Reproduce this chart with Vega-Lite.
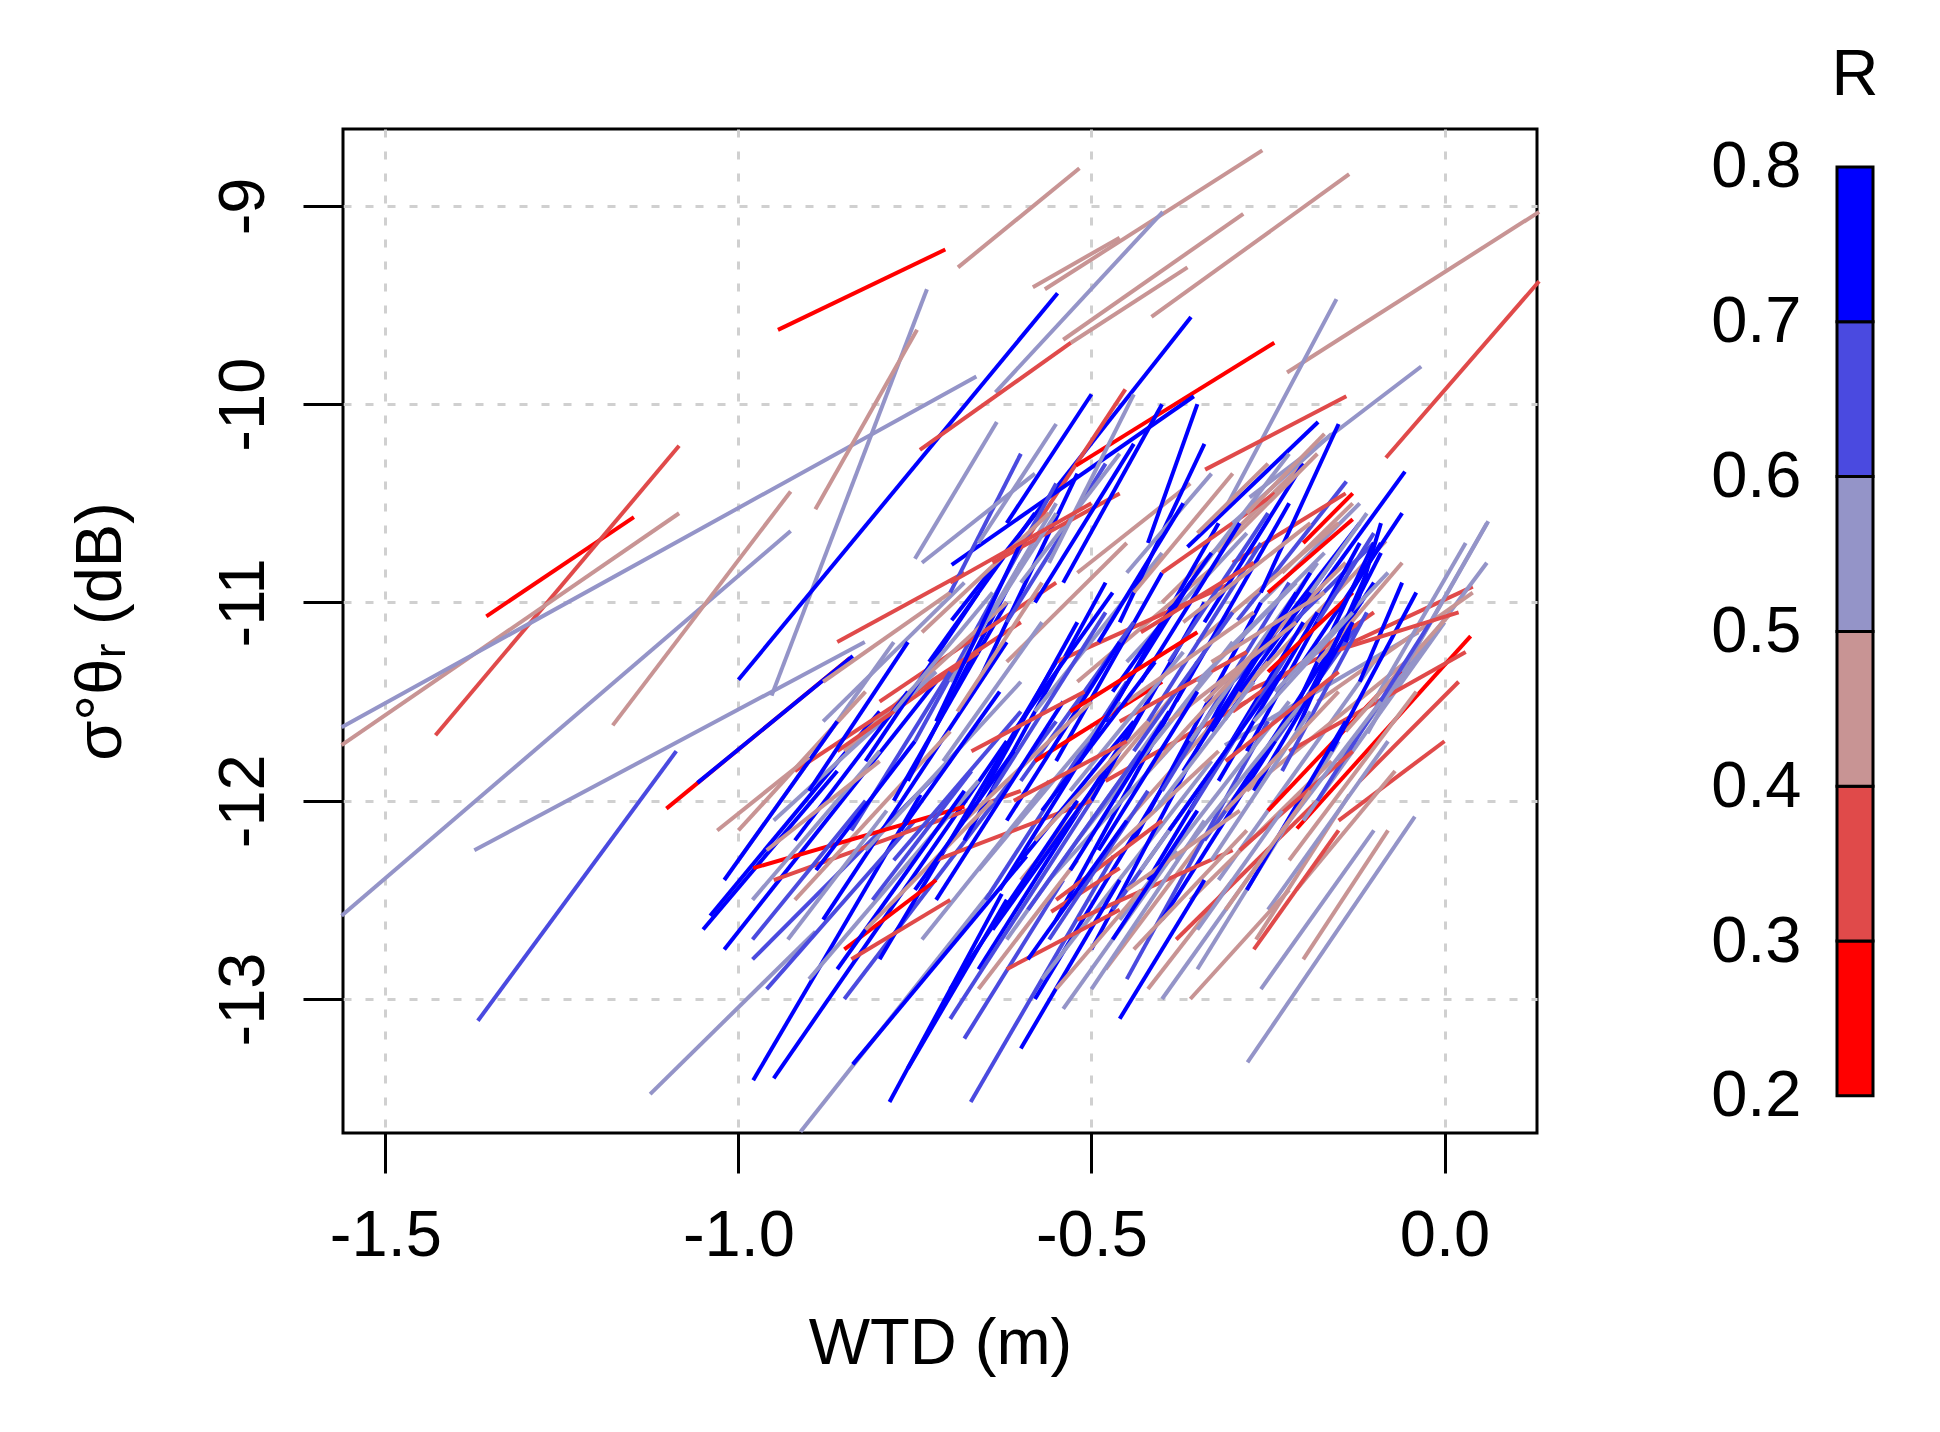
{
  "$schema": "https://vega.github.io/schema/vega-lite/v6.json",
  "background": "white",
  "padding": {"left": 66, "top": 43, "right": 10, "bottom": 10},
  "config": {
    "font": "Liberation Sans",
    "view": {"stroke": null},
    "axis": {"labelFont": "Liberation Sans", "titleFont": "Liberation Sans", "labelColor": "black", "titleColor": "black", "titleFontWeight": "normal"}
  },
  "datasets": {
    "segments": [
      {"x": -0.944, "y": -9.625, "x2": -0.707, "y2": -9.22, "r": 0.22},
      {"x": -0.689, "y": -9.31, "x2": -0.517, "y2": -8.81, "r": 0.45},
      {"x": -0.566, "y": -9.42, "x2": -0.258, "y2": -8.72, "r": 0.46},
      {"x": -0.415, "y": -9.56, "x2": -0.135, "y2": -8.84, "r": 0.44},
      {"x": -0.54, "y": -9.675, "x2": -0.285, "y2": -9.04, "r": 0.47},
      {"x": -0.223, "y": -9.84, "x2": 0.134, "y2": -9.03, "r": 0.45},
      {"x": -0.083, "y": -10.27, "x2": 0.134, "y2": -9.38, "r": 0.33},
      {"x": -1.357, "y": -11.07, "x2": -1.148, "y2": -10.57, "r": 0.24},
      {"x": -1.429, "y": -11.67, "x2": -1.084, "y2": -10.21, "r": 0.32},
      {"x": -1.562, "y": -11.72, "x2": -1.084, "y2": -10.55, "r": 0.43},
      {"x": -1.562, "y": -11.63, "x2": -0.663, "y2": -9.86, "r": 0.55},
      {"x": -1.562, "y": -12.58, "x2": -0.926, "y2": -10.64, "r": 0.54},
      {"x": -1.374, "y": -12.25, "x2": -0.821, "y2": -11.2, "r": 0.56},
      {"x": -1.178, "y": -11.62, "x2": -0.926, "y2": -10.44, "r": 0.44},
      {"x": -0.953, "y": -11.47, "x2": -0.733, "y2": -9.42, "r": 0.53},
      {"x": -0.891, "y": -10.53, "x2": -0.747, "y2": -9.625, "r": 0.46},
      {"x": -1.0, "y": -11.39, "x2": -0.548, "y2": -9.44, "r": 0.74},
      {"x": -0.636, "y": -9.94, "x2": -0.399, "y2": -9.03, "r": 0.57},
      {"x": -0.583, "y": -9.41, "x2": -0.46, "y2": -9.16, "r": 0.42},
      {"x": -0.743, "y": -10.23, "x2": -0.529, "y2": -9.69, "r": 0.35},
      {"x": -0.529, "y": -9.69, "x2": -0.364, "y2": -9.31, "r": 0.45},
      {"x": -0.698, "y": -11.09, "x2": -0.359, "y2": -9.56, "r": 0.75},
      {"x": -0.61, "y": -10.78, "x2": -0.452, "y2": -9.925, "r": 0.36},
      {"x": -0.522, "y": -10.31, "x2": -0.241, "y2": -9.69, "r": 0.25},
      {"x": -0.698, "y": -10.81, "x2": -0.355, "y2": -9.96, "r": 0.72},
      {"x": -0.311, "y": -10.53, "x2": -0.153, "y2": -9.47, "r": 0.52},
      {"x": -0.339, "y": -10.33, "x2": -0.139, "y2": -9.96, "r": 0.34},
      {"x": -0.276, "y": -10.47, "x2": -0.033, "y2": -9.81, "r": 0.55},
      {"x": -0.364, "y": -10.72, "x2": -0.179, "y2": -10.09, "r": 0.73},
      {"x": -0.109, "y": -11.66, "x2": 0.062, "y2": -10.59, "r": 0.53},
      {"x": -0.293, "y": -11.47, "x2": 0.04, "y2": -10.92, "r": 0.36},
      {"x": -0.209, "y": -12.14, "x2": 0.037, "y2": -11.17, "r": 0.23},
      {"x": -0.311, "y": -11.59, "x2": -0.056, "y2": -10.34, "r": 0.71},
      {"x": -0.293, "y": -11.09, "x2": -0.139, "y2": -10.39, "r": 0.66},
      {"x": -0.293, "y": -11.47, "x2": -0.083, "y2": -10.69, "r": 0.47},
      {"x": -0.311, "y": -11.72, "x2": -0.037, "y2": -11.15, "r": 0.58},
      {"x": -0.912, "y": -13.67, "x2": -0.645, "y2": -12.47, "r": 0.55},
      {"x": -0.979, "y": -13.41, "x2": -0.742, "y2": -11.97, "r": 0.76},
      {"x": -0.838, "y": -13.33, "x2": -0.592, "y2": -12.28, "r": 0.73},
      {"x": -0.786, "y": -13.52, "x2": -0.627, "y2": -12.47, "r": 0.71},
      {"x": -0.671, "y": -13.52, "x2": -0.469, "y2": -12.28, "r": 0.68},
      {"x": -1.125, "y": -13.48, "x2": -0.891, "y2": -12.66, "r": 0.56},
      {"x": -1.369, "y": -13.11, "x2": -1.088, "y2": -11.75, "r": 0.68},
      {"x": -0.279, "y": -13.32, "x2": -0.042, "y2": -12.08, "r": 0.55},
      {"x": -1.102, "y": -12.04, "x2": -0.842, "y2": -11.28, "r": 0.24},
      {"x": -1.058, "y": -11.91, "x2": -0.838, "y2": -11.27, "r": 0.75},
      {"x": -1.04, "y": -12.58, "x2": -0.8, "y2": -11.55, "r": 0.74},
      {"x": -1.02, "y": -12.75, "x2": -0.72, "y2": -11.4, "r": 0.72},
      {"x": -0.98, "y": -12.8, "x2": -0.7, "y2": -11.8, "r": 0.65},
      {"x": -1.05, "y": -12.65, "x2": -0.86, "y2": -11.85, "r": 0.77},
      {"x": -1.0, "y": -12.3, "x2": -0.78, "y2": -11.2, "r": 0.55},
      {"x": -0.96, "y": -12.95, "x2": -0.75, "y2": -12.1, "r": 0.63},
      {"x": -0.95, "y": -13.4, "x2": -0.62, "y2": -11.7, "r": 0.75},
      {"x": -1.0, "y": -12.15, "x2": -0.82, "y2": -11.45, "r": 0.45},
      {"x": -0.95, "y": -12.4, "x2": -0.6, "y2": -11.95, "r": 0.35},
      {"x": -0.88, "y": -12.6, "x2": -0.62, "y2": -11.2, "r": 0.76},
      {"x": -0.9, "y": -12.9, "x2": -0.66, "y2": -11.9, "r": 0.52},
      {"x": -0.85, "y": -13.0, "x2": -0.55, "y2": -11.6, "r": 0.67},
      {"x": -0.92, "y": -12.5, "x2": -0.7, "y2": -11.65, "r": 0.48},
      {"x": -0.8, "y": -12.8, "x2": -0.55, "y2": -11.3, "r": 0.78},
      {"x": -0.82, "y": -12.25, "x2": -0.6, "y2": -11.4, "r": 0.58},
      {"x": -0.85, "y": -12.75, "x2": -0.72, "y2": -12.4, "r": 0.26},
      {"x": -0.76, "y": -11.9, "x2": -0.6, "y2": -10.8, "r": 0.75},
      {"x": -0.78, "y": -12.0, "x2": -0.62, "y2": -11.0, "r": 0.72},
      {"x": -0.75, "y": -11.7, "x2": -0.55, "y2": -10.4, "r": 0.64},
      {"x": -0.8, "y": -11.5, "x2": -0.55, "y2": -10.9, "r": 0.37},
      {"x": -0.85, "y": -11.75, "x2": -0.62, "y2": -11.0, "r": 0.44},
      {"x": -0.7, "y": -11.4, "x2": -0.55, "y2": -10.5, "r": 0.57},
      {"x": -0.73, "y": -11.3, "x2": -0.58, "y2": -10.55, "r": 0.73},
      {"x": -0.92, "y": -11.85, "x2": -0.6, "y2": -11.1, "r": 0.34},
      {"x": -0.95, "y": -12.1, "x2": -0.72, "y2": -11.35, "r": 0.56},
      {"x": -0.68, "y": -12.2, "x2": -0.48, "y2": -10.9, "r": 0.77},
      {"x": -0.65, "y": -12.5, "x2": -0.45, "y2": -11.4, "r": 0.66},
      {"x": -0.66, "y": -12.85, "x2": -0.42, "y2": -11.5, "r": 0.74},
      {"x": -0.62, "y": -12.7, "x2": -0.4, "y2": -11.6, "r": 0.53},
      {"x": -0.6, "y": -12.4, "x2": -0.38, "y2": -11.45, "r": 0.47},
      {"x": -0.58, "y": -13.0, "x2": -0.36, "y2": -11.7, "r": 0.76},
      {"x": -0.7, "y": -13.1, "x2": -0.5, "y2": -12.0, "r": 0.62},
      {"x": -0.55, "y": -12.6, "x2": -0.35, "y2": -11.3, "r": 0.79},
      {"x": -0.57, "y": -12.9, "x2": -0.33, "y2": -11.8, "r": 0.59},
      {"x": -0.557, "y": -12.56, "x2": -0.46, "y2": -12.34, "r": 0.38},
      {"x": -0.5, "y": -12.75, "x2": -0.3, "y2": -11.4, "r": 0.72},
      {"x": -0.48, "y": -12.85, "x2": -0.28, "y2": -11.9, "r": 0.44},
      {"x": -0.45, "y": -12.9, "x2": -0.25, "y2": -11.6, "r": 0.68},
      {"x": -0.46, "y": -12.6, "x2": -0.22, "y2": -11.5, "r": 0.54},
      {"x": -0.42, "y": -12.4, "x2": -0.2, "y2": -11.1, "r": 0.75},
      {"x": -0.42, "y": -12.95, "x2": -0.3, "y2": -12.4, "r": 0.49},
      {"x": -0.38, "y": -12.7, "x2": -0.18, "y2": -12.0, "r": 0.33},
      {"x": -0.35, "y": -12.85, "x2": -0.15, "y2": -11.7, "r": 0.56},
      {"x": -0.267, "y": -12.7, "x2": -0.135, "y2": -11.97, "r": 0.46},
      {"x": -0.32, "y": -12.4, "x2": -0.1, "y2": -11.3, "r": 0.53},
      {"x": -0.34, "y": -12.2, "x2": -0.12, "y2": -11.1, "r": 0.67},
      {"x": -0.3, "y": -12.0, "x2": -0.1, "y2": -10.9, "r": 0.78},
      {"x": -0.25, "y": -12.05, "x2": -0.05, "y2": -11.3, "r": 0.24},
      {"x": -0.28, "y": -11.95, "x2": -0.02, "y2": -11.2, "r": 0.45},
      {"x": -0.2, "y": -12.1, "x2": 0.0, "y2": -11.1, "r": 0.51},
      {"x": -0.22, "y": -11.75, "x2": 0.03, "y2": -11.25, "r": 0.35},
      {"x": -0.15, "y": -11.8, "x2": 0.06, "y2": -10.8, "r": 0.56},
      {"x": -0.18, "y": -11.5, "x2": 0.04, "y2": -10.95, "r": 0.43},
      {"x": -0.2, "y": -11.3, "x2": -0.06, "y2": -10.55, "r": 0.73},
      {"x": -0.25, "y": -11.2, "x2": -0.12, "y2": -10.6, "r": 0.72},
      {"x": -0.3, "y": -11.4, "x2": -0.1, "y2": -10.7, "r": 0.65},
      {"x": -0.22, "y": -11.6, "x2": -0.1, "y2": -10.7, "r": 0.75},
      {"x": -0.26, "y": -11.0, "x2": -0.12, "y2": -10.5, "r": 0.57},
      {"x": -0.35, "y": -11.2, "x2": -0.15, "y2": -10.6, "r": 0.48},
      {"x": -0.3, "y": -10.8, "x2": -0.14, "y2": -10.45, "r": 0.36},
      {"x": -0.25, "y": -10.95, "x2": -0.13, "y2": -10.58, "r": 0.25},
      {"x": -0.38, "y": -11.5, "x2": -0.22, "y2": -10.5, "r": 0.76},
      {"x": -0.4, "y": -11.0, "x2": -0.2, "y2": -10.3, "r": 0.45},
      {"x": -0.42, "y": -11.6, "x2": -0.26, "y2": -10.7, "r": 0.66},
      {"x": -0.45, "y": -11.3, "x2": -0.28, "y2": -10.65, "r": 0.58},
      {"x": -0.48, "y": -11.6, "x2": -0.32, "y2": -10.6, "r": 0.74},
      {"x": -0.52, "y": -11.4, "x2": -0.32, "y2": -10.8, "r": 0.43},
      {"x": -0.55, "y": -11.3, "x2": -0.3, "y2": -10.9, "r": 0.31},
      {"x": -0.55, "y": -11.8, "x2": -0.4, "y2": -10.85, "r": 0.77},
      {"x": -0.58, "y": -11.55, "x2": -0.4, "y2": -10.75, "r": 0.52},
      {"x": -0.6, "y": -11.9, "x2": -0.44, "y2": -11.1, "r": 0.69},
      {"x": -0.62, "y": -11.3, "x2": -0.45, "y2": -10.7, "r": 0.47},
      {"x": -0.58, "y": -11.8, "x2": -0.4, "y2": -11.4, "r": 0.27},
      {"x": -0.5, "y": -12.0, "x2": -0.34, "y2": -11.0, "r": 0.75},
      {"x": -0.52, "y": -12.2, "x2": -0.3, "y2": -11.2, "r": 0.55},
      {"x": -0.45, "y": -12.1, "x2": -0.25, "y2": -11.3, "r": 0.46},
      {"x": -0.48, "y": -11.9, "x2": -0.28, "y2": -11.5, "r": 0.39},
      {"x": -0.44, "y": -12.2, "x2": -0.26, "y2": -11.0, "r": 0.79},
      {"x": -0.4, "y": -11.95, "x2": -0.22, "y2": -10.9, "r": 0.64},
      {"x": -0.36, "y": -11.7, "x2": -0.18, "y2": -10.8, "r": 0.59},
      {"x": -0.34, "y": -11.5, "x2": -0.14, "y2": -10.8, "r": 0.42},
      {"x": -0.28, "y": -11.75, "x2": -0.12, "y2": -10.7, "r": 0.76},
      {"x": -0.3, "y": -11.55, "x2": -0.1, "y2": -11.05, "r": 0.32},
      {"x": -0.62, "y": -12.1, "x2": -0.46, "y2": -11.2, "r": 0.73},
      {"x": -0.64, "y": -11.95, "x2": -0.48, "y2": -11.05, "r": 0.67},
      {"x": -0.66, "y": -12.35, "x2": -0.46, "y2": -11.5, "r": 0.53},
      {"x": -0.68, "y": -12.1, "x2": -0.5, "y2": -11.5, "r": 0.41},
      {"x": -0.72, "y": -12.3, "x2": -0.5, "y2": -12.0, "r": 0.37},
      {"x": -0.72, "y": -12.5, "x2": -0.54, "y2": -11.5, "r": 0.74},
      {"x": -0.979, "y": -12.34, "x2": -0.68, "y2": -12.03, "r": 0.26},
      {"x": -0.55, "y": -12.5, "x2": -0.4, "y2": -12.1, "r": 0.34},
      {"x": -0.6, "y": -12.3, "x2": -0.44, "y2": -11.6, "r": 0.72},
      {"x": -0.56, "y": -12.4, "x2": -0.38, "y2": -11.7, "r": 0.57},
      {"x": -0.5, "y": -12.35, "x2": -0.32, "y2": -11.75, "r": 0.44},
      {"x": -0.47, "y": -12.55, "x2": -0.3, "y2": -11.7, "r": 0.63},
      {"x": -0.4, "y": -12.6, "x2": -0.24, "y2": -11.7, "r": 0.77},
      {"x": -0.38, "y": -12.3, "x2": -0.2, "y2": -11.5, "r": 0.55},
      {"x": -0.36, "y": -12.5, "x2": -0.16, "y2": -11.8, "r": 0.48},
      {"x": -0.52, "y": -12.6, "x2": -0.3, "y2": -12.25, "r": 0.36},
      {"x": -0.7, "y": -12.95, "x2": -0.52, "y2": -12.0, "r": 0.76},
      {"x": -0.74, "y": -12.7, "x2": -0.56, "y2": -11.9, "r": 0.51},
      {"x": -0.86, "y": -12.85, "x2": -0.68, "y2": -11.95, "r": 0.73},
      {"x": -0.82, "y": -12.65, "x2": -0.64, "y2": -12.0, "r": 0.46},
      {"x": -0.78, "y": -12.3, "x2": -0.6, "y2": -11.55, "r": 0.69},
      {"x": -0.92, "y": -12.2, "x2": -0.76, "y2": -11.45, "r": 0.78},
      {"x": -0.86, "y": -11.75, "x2": -0.66, "y2": -11.25, "r": 0.33},
      {"x": -0.88, "y": -11.6, "x2": -0.68, "y2": -10.9, "r": 0.58},
      {"x": -0.82, "y": -11.8, "x2": -0.66, "y2": -10.95, "r": 0.71},
      {"x": -0.74, "y": -11.15, "x2": -0.56, "y2": -10.55, "r": 0.45},
      {"x": -0.66, "y": -11.4, "x2": -0.52, "y2": -10.35, "r": 0.76},
      {"x": -0.62, "y": -11.1, "x2": -0.48, "y2": -10.3, "r": 0.64},
      {"x": -0.6, "y": -10.9, "x2": -0.46, "y2": -10.25, "r": 0.56},
      {"x": -0.64, "y": -10.8, "x2": -0.46, "y2": -10.45, "r": 0.35},
      {"x": -0.58, "y": -11.0, "x2": -0.44, "y2": -10.2, "r": 0.73},
      {"x": -0.54, "y": -10.9, "x2": -0.4, "y2": -10.0, "r": 0.77},
      {"x": -0.52, "y": -10.85, "x2": -0.36, "y2": -10.4, "r": 0.49},
      {"x": -0.56, "y": -10.8, "x2": -0.44, "y2": -9.95, "r": 0.53},
      {"x": -0.46, "y": -11.1, "x2": -0.34, "y2": -10.2, "r": 0.74},
      {"x": -0.44, "y": -10.95, "x2": -0.3, "y2": -10.35, "r": 0.47},
      {"x": -0.4, "y": -10.85, "x2": -0.24, "y2": -10.45, "r": 0.31},
      {"x": -0.36, "y": -10.9, "x2": -0.22, "y2": -10.25, "r": 0.57},
      {"x": -0.34, "y": -11.1, "x2": -0.2, "y2": -10.3, "r": 0.75},
      {"x": -0.32, "y": -10.75, "x2": -0.18, "y2": -10.25, "r": 0.44},
      {"x": -0.3, "y": -10.6, "x2": -0.16, "y2": -10.15, "r": 0.52},
      {"x": -0.28, "y": -10.55, "x2": -0.17, "y2": -10.15, "r": 0.43},
      {"x": -0.26, "y": -10.95, "x2": -0.15, "y2": -10.1, "r": 0.78},
      {"x": -0.2, "y": -10.7, "x2": -0.13, "y2": -10.45, "r": 0.25},
      {"x": -0.14, "y": -11.2, "x2": -0.09, "y2": -10.6, "r": 0.76},
      {"x": -0.18, "y": -11.1, "x2": -0.1, "y2": -10.65, "r": 0.63},
      {"x": -0.12, "y": -11.4, "x2": -0.06, "y2": -10.9, "r": 0.72},
      {"x": -0.1, "y": -11.5, "x2": 0.03, "y2": -10.7, "r": 0.55},
      {"x": -0.14, "y": -11.65, "x2": 0.01, "y2": -11.05, "r": 0.46},
      {"x": -0.12, "y": -11.9, "x2": 0.02, "y2": -11.4, "r": 0.37},
      {"x": -0.16, "y": -11.75, "x2": -0.04, "y2": -10.95, "r": 0.74},
      {"x": -0.06, "y": -11.35, "x2": 0.06, "y2": -10.6, "r": 0.58},
      {"x": -0.18, "y": -12.0, "x2": -0.02, "y2": -11.1, "r": 0.66},
      {"x": -0.22, "y": -12.3, "x2": -0.04, "y2": -11.45, "r": 0.45},
      {"x": -0.15, "y": -12.1, "x2": 0.0, "y2": -11.7, "r": 0.35},
      {"x": -0.25, "y": -12.55, "x2": -0.08, "y2": -11.7, "r": 0.54},
      {"x": -0.28, "y": -12.45, "x2": -0.14, "y2": -11.6, "r": 0.73},
      {"x": -0.2, "y": -12.8, "x2": -0.08, "y2": -12.15, "r": 0.41},
      {"x": -0.26, "y": -12.95, "x2": -0.1, "y2": -12.15, "r": 0.57},
      {"x": -0.64, "y": -12.65, "x2": -0.48, "y2": -11.85, "r": 0.79},
      {"x": -0.56, "y": -12.7, "x2": -0.42, "y2": -11.95, "r": 0.65},
      {"x": -0.44, "y": -12.75, "x2": -0.28, "y2": -12.15, "r": 0.43},
      {"x": -0.5, "y": -12.95, "x2": -0.34, "y2": -12.1, "r": 0.58},
      {"x": -0.6, "y": -13.25, "x2": -0.46, "y2": -12.4, "r": 0.74},
      {"x": -0.54, "y": -13.05, "x2": -0.38, "y2": -12.25, "r": 0.52},
      {"x": -0.76, "y": -13.35, "x2": -0.62, "y2": -12.5, "r": 0.72},
      {"x": -0.68, "y": -13.2, "x2": -0.54, "y2": -12.4, "r": 0.68},
      {"x": -0.66, "y": -12.95, "x2": -0.52, "y2": -12.3, "r": 0.47},
      {"x": -0.62, "y": -12.85, "x2": -0.46, "y2": -12.55, "r": 0.32},
      {"x": -0.4, "y": -13.0, "x2": -0.26, "y2": -12.3, "r": 0.55},
      {"x": -0.46, "y": -13.1, "x2": -0.34, "y2": -12.4, "r": 0.77},
      {"x": -0.36, "y": -13.0, "x2": -0.22, "y2": -12.45, "r": 0.49},
      {"x": -0.98, "y": -12.7, "x2": -0.82, "y2": -12.0, "r": 0.65},
      {"x": -1.02, "y": -12.4, "x2": -0.86, "y2": -11.6, "r": 0.79},
      {"x": -0.98, "y": -12.5, "x2": -0.8, "y2": -11.75, "r": 0.53},
      {"x": -0.96, "y": -12.25, "x2": -0.8, "y2": -11.8, "r": 0.44},
      {"x": -0.84, "y": -12.8, "x2": -0.7, "y2": -12.5, "r": 0.38},
      {"x": -0.9, "y": -11.95, "x2": -0.76, "y2": -11.2, "r": 0.76},
      {"x": -0.84, "y": -12.15, "x2": -0.7, "y2": -11.35, "r": 0.67},
      {"x": -0.78, "y": -11.55, "x2": -0.64, "y2": -10.95, "r": 0.56},
      {"x": -0.88, "y": -11.4, "x2": -0.7, "y2": -10.95, "r": 0.46},
      {"x": -0.86, "y": -11.2, "x2": -0.68, "y2": -10.85, "r": 0.39},
      {"x": -0.72, "y": -11.6, "x2": -0.6, "y2": -10.7, "r": 0.74},
      {"x": -0.7, "y": -10.95, "x2": -0.6, "y2": -10.25, "r": 0.66},
      {"x": -0.66, "y": -10.7, "x2": -0.55, "y2": -10.1, "r": 0.55},
      {"x": -0.62, "y": -10.6, "x2": -0.5, "y2": -9.95, "r": 0.73},
      {"x": -0.64, "y": -11.05, "x2": -0.55, "y2": -10.55, "r": 0.51},
      {"x": -0.42, "y": -10.7, "x2": -0.35, "y2": -10.0, "r": 0.7},
      {"x": -0.7, "y": -10.9, "x2": -0.5, "y2": -10.5, "r": 0.35},
      {"x": -0.74, "y": -10.8, "x2": -0.58, "y2": -10.35, "r": 0.56},
      {"x": -0.66, "y": -12.0, "x2": -0.52, "y2": -11.1, "r": 0.78},
      {"x": -0.58, "y": -12.2, "x2": -0.42, "y2": -11.6, "r": 0.48},
      {"x": -0.44, "y": -11.75, "x2": -0.3, "y2": -11.05, "r": 0.63},
      {"x": -0.24, "y": -11.45, "x2": -0.08, "y2": -10.85, "r": 0.54},
      {"x": -0.18, "y": -11.3, "x2": -0.06, "y2": -10.8, "r": 0.42},
      {"x": -0.16, "y": -11.25, "x2": 0.02, "y2": -11.05, "r": 0.34},
      {"x": -0.32, "y": -11.9, "x2": -0.18, "y2": -11.05, "r": 0.77},
      {"x": -0.36, "y": -12.05, "x2": -0.22, "y2": -11.25, "r": 0.69},
      {"x": -0.42, "y": -11.85, "x2": -0.24, "y2": -11.15, "r": 0.45},
      {"x": -0.46, "y": -11.6, "x2": -0.28, "y2": -11.25, "r": 0.36},
      {"x": -0.75, "y": -10.78, "x2": -0.634, "y2": -10.09, "r": 0.54},
      {"x": -1.03, "y": -12.15, "x2": -0.9, "y2": -11.78, "r": 0.45},
      {"x": -0.5, "y": -11.7, "x2": -0.36, "y2": -10.9, "r": 0.76},
      {"x": -0.47, "y": -11.45, "x2": -0.33, "y2": -10.75, "r": 0.71},
      {"x": -0.43, "y": -11.4, "x2": -0.29, "y2": -10.6, "r": 0.78},
      {"x": -0.39, "y": -11.3, "x2": -0.25, "y2": -10.55, "r": 0.66},
      {"x": -0.37, "y": -11.85, "x2": -0.21, "y2": -10.95, "r": 0.74},
      {"x": -0.33, "y": -11.65, "x2": -0.19, "y2": -10.85, "r": 0.72},
      {"x": -0.29, "y": -11.45, "x2": -0.15, "y2": -10.75, "r": 0.79},
      {"x": -0.27, "y": -11.95, "x2": -0.13, "y2": -11.1, "r": 0.75},
      {"x": -0.23, "y": -11.85, "x2": -0.11, "y2": -11.05, "r": 0.68},
      {"x": -0.21, "y": -11.65, "x2": -0.11, "y2": -10.85, "r": 0.77},
      {"x": -0.19, "y": -11.45, "x2": -0.09, "y2": -10.75, "r": 0.73},
      {"x": -0.53, "y": -11.95, "x2": -0.37, "y2": -11.25, "r": 0.55},
      {"x": -0.49, "y": -12.05, "x2": -0.33, "y2": -11.35, "r": 0.58},
      {"x": -0.41, "y": -12.05, "x2": -0.27, "y2": -11.4, "r": 0.53},
      {"x": -0.35, "y": -11.4, "x2": -0.21, "y2": -10.9, "r": 0.56},
      {"x": -0.31, "y": -11.25, "x2": -0.17, "y2": -10.75, "r": 0.52},
      {"x": -0.27, "y": -11.6, "x2": -0.13, "y2": -11.05, "r": 0.57},
      {"x": -0.45, "y": -11.5, "x2": -0.27, "y2": -11.05, "r": 0.44},
      {"x": -0.39, "y": -11.6, "x2": -0.21, "y2": -11.1, "r": 0.47},
      {"x": -0.33, "y": -11.3, "x2": -0.17, "y2": -10.95, "r": 0.43},
      {"x": -0.37, "y": -11.1, "x2": -0.19, "y2": -10.6, "r": 0.46},
      {"x": -0.43, "y": -11.15, "x2": -0.27, "y2": -10.8, "r": 0.34},
      {"x": -0.31, "y": -11.8, "x2": -0.15, "y2": -11.35, "r": 0.37},
      {"x": -0.53, "y": -11.55, "x2": -0.35, "y2": -11.15, "r": 0.28},
      {"x": -0.25, "y": -11.35, "x2": -0.13, "y2": -10.95, "r": 0.27},
      {"x": -0.57, "y": -12.05, "x2": -0.41, "y2": -11.3, "r": 0.75},
      {"x": -0.61, "y": -11.65, "x2": -0.47, "y2": -10.95, "r": 0.77},
      {"x": -0.63, "y": -12.45, "x2": -0.49, "y2": -11.65, "r": 0.72},
      {"x": -0.59, "y": -12.55, "x2": -0.43, "y2": -11.75, "r": 0.66},
      {"x": -0.53, "y": -12.35, "x2": -0.39, "y2": -11.55, "r": 0.78},
      {"x": -0.49, "y": -12.25, "x2": -0.35, "y2": -11.45, "r": 0.74},
      {"x": -0.43, "y": -12.35, "x2": -0.29, "y2": -11.65, "r": 0.56},
      {"x": -0.39, "y": -12.15, "x2": -0.23, "y2": -11.35, "r": 0.72},
      {"x": -0.33, "y": -12.3, "x2": -0.19, "y2": -11.55, "r": 0.58},
      {"x": -0.31, "y": -12.05, "x2": -0.15, "y2": -11.45, "r": 0.45},
      {"x": -0.29, "y": -12.25, "x2": -0.13, "y2": -11.75, "r": 0.35},
      {"x": -0.23, "y": -12.15, "x2": -0.09, "y2": -11.5, "r": 0.55},
      {"x": -0.21, "y": -12.45, "x2": -0.07, "y2": -11.85, "r": 0.47},
      {"x": -0.45, "y": -10.85, "x2": -0.33, "y2": -10.35, "r": 0.55},
      {"x": -0.49, "y": -11.2, "x2": -0.37, "y2": -10.5, "r": 0.73},
      {"x": -0.35, "y": -10.65, "x2": -0.25, "y2": -10.3, "r": 0.45},
      {"x": -0.23, "y": -10.85, "x2": -0.13, "y2": -10.5, "r": 0.48},
      {"x": -0.19, "y": -10.95, "x2": -0.11, "y2": -10.55, "r": 0.52},
      {"x": -0.15, "y": -11.05, "x2": -0.09, "y2": -10.7, "r": 0.74},
      {"x": -0.71, "y": -11.8, "x2": -0.57, "y2": -11.1, "r": 0.55},
      {"x": -0.69, "y": -11.55, "x2": -0.57, "y2": -10.9, "r": 0.47},
      {"x": -0.77, "y": -12.15, "x2": -0.63, "y2": -11.45, "r": 0.74},
      {"x": -0.75, "y": -12.45, "x2": -0.61, "y2": -11.75, "r": 0.77},
      {"x": -0.81, "y": -12.5, "x2": -0.67, "y2": -11.85, "r": 0.66},
      {"x": -0.89, "y": -12.35, "x2": -0.75, "y2": -11.7, "r": 0.72},
      {"x": -0.93, "y": -12.7, "x2": -0.79, "y2": -12.05, "r": 0.57},
      {"x": -0.61, "y": -12.0, "x2": -0.45, "y2": -11.7, "r": 0.36},
      {"x": -0.67, "y": -11.75, "x2": -0.51, "y2": -11.45, "r": 0.33},
      {"x": -0.45, "y": -12.45, "x2": -0.29, "y2": -12.05, "r": 0.42},
      {"x": -0.55, "y": -12.95, "x2": -0.43, "y2": -12.45, "r": 0.46},
      {"x": -0.59, "y": -12.8, "x2": -0.45, "y2": -12.1, "r": 0.76},
      {"x": -0.47, "y": -12.7, "x2": -0.35, "y2": -12.05, "r": 0.73},
      {"x": -0.35, "y": -12.65, "x2": -0.23, "y2": -12.05, "r": 0.53},
      {"x": -0.31, "y": -12.55, "x2": -0.19, "y2": -11.95, "r": 0.44},
      {"x": -0.27, "y": -12.75, "x2": -0.15, "y2": -12.15, "r": 0.36}
    ],
    "bar": [
      {"lo": 0.2, "hi": 0.3, "r": 0.25},
      {"lo": 0.3, "hi": 0.4, "r": 0.35},
      {"lo": 0.4, "hi": 0.5, "r": 0.45},
      {"lo": 0.5, "hi": 0.6, "r": 0.55},
      {"lo": 0.6, "hi": 0.7, "r": 0.65},
      {"lo": 0.7, "hi": 0.8, "r": 0.75}
    ]
  },
  "bounds": "flush",
  "spacing": 300,
  "hconcat": [
    {
      "width": 1194,
      "height": 1004,
      "view": {"stroke": "black", "strokeWidth": 3},
      "data": {"name": "segments"},
      "mark": {"type": "rule", "strokeWidth": 4, "strokeCap": "butt"},
      "encoding": {
        "x": {
          "field": "x",
          "type": "quantitative",
          "scale": {"domain": [-1.56, 0.131], "nice": false, "zero": false},
          "axis": {
            "title": "WTD (m)",
            "values": [-1.5, -1, -0.5, 0],
            "format": ".1f",
            "labelExpr": "replace(datum.label, '\u2212', '-')",
            "domain": false,
            "tickColor": "black",
            "tickWidth": 3,
            "tickSize": 40,
            "labelFontSize": 65,
            "labelPadding": 31,
            "titleFontSize": 65,
            "titlePadding": 44,
            "grid": true,
            "gridColor": "#d0d0d0",
            "gridWidth": 3,
            "gridDash": [8, 14]
          }
        },
        "y": {
          "field": "y",
          "type": "quantitative",
          "scale": {"domain": [-13.676, -8.612], "nice": false, "zero": false},
          "axis": {
            "title": "σ°θᵣ (dB)",
            "values": [-13, -12, -11, -10, -9],
            "format": "d",
            "labelExpr": "replace(datum.label, '\u2212', '-')",
            "labelAngle": -90,
            "domain": false,
            "tickColor": "black",
            "tickWidth": 3,
            "tickSize": 40,
            "labelFontSize": 65,
            "labelPadding": 26,
            "titleFontSize": 65,
            "titlePadding": 77,
            "grid": true,
            "gridColor": "#d0d0d0",
            "gridWidth": 3,
            "gridDash": [8, 14]
          }
        },
        "x2": {"field": "x2"},
        "y2": {"field": "y2"},
        "color": {
          "field": "r",
          "type": "quantitative",
          "scale": {
            "type": "threshold",
            "domain": [0.3, 0.4, 0.5, 0.6, 0.7],
            "range": ["#ff0000", "#e04a4a", "#c89494", "#9494c8", "#4a4ae0", "#0000ff"]
          },
          "legend": null
        }
      }
    },
    {
      "width": 36,
      "height": 1004,
      "title": {"text": "R", "fontSize": 65, "fontWeight": "normal", "font": "Liberation Sans", "anchor": "middle", "baseline": "alphabetic", "offset": -31, "color": "black"},
      "data": {"name": "bar"},
      "mark": {"type": "rect", "stroke": "black", "strokeWidth": 3},
      "encoding": {
        "y": {
          "field": "lo",
          "type": "quantitative",
          "scale": {"domain": [0.176, 0.8245], "nice": false, "zero": false},
          "axis": {
            "title": null,
            "values": [0.2, 0.3, 0.4, 0.5, 0.6, 0.7, 0.8],
            "format": ".1f",
            "domain": false,
            "ticks": false,
            "grid": false,
            "labelFontSize": 65,
            "labelPadding": 36
          }
        },
        "y2": {"field": "hi"},
        "color": {
          "field": "r",
          "type": "quantitative",
          "scale": {
            "type": "threshold",
            "domain": [0.3, 0.4, 0.5, 0.6, 0.7],
            "range": ["#ff0000", "#e04a4a", "#c89494", "#9494c8", "#4a4ae0", "#0000ff"]
          },
          "legend": null
        }
      }
    }
  ]
}
